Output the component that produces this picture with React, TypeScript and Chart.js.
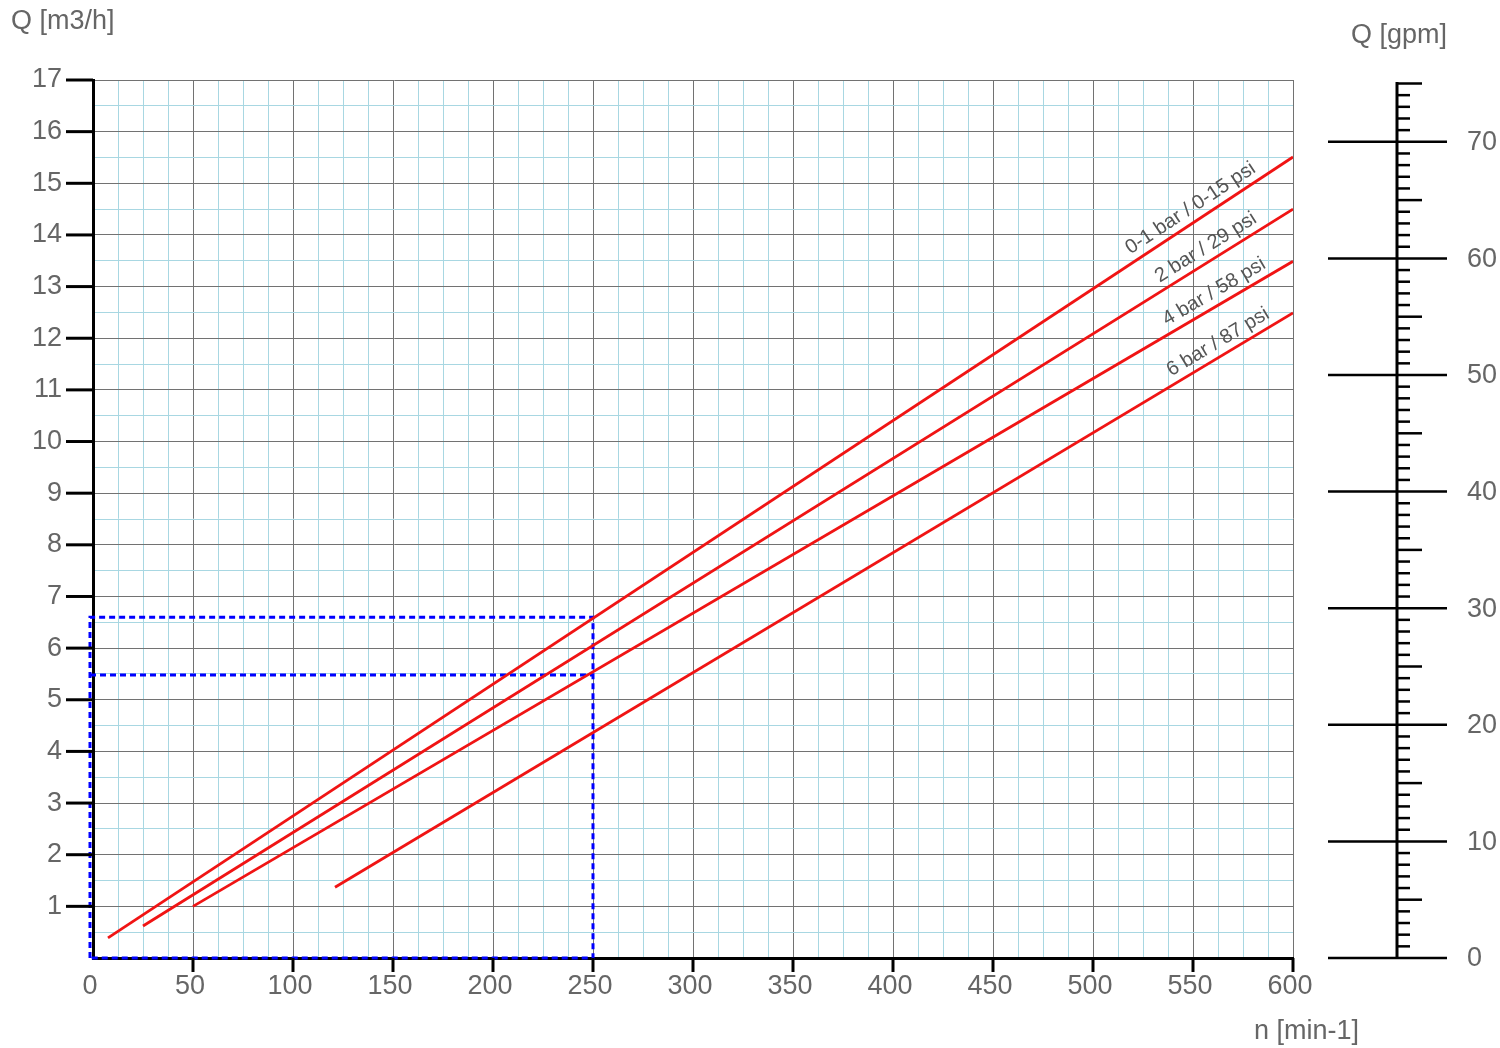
import React, { useEffect, useRef } from 'react';
import { Chart, registerables } from 'chart.js';
Chart.register(...registerables);

// ---- data ----
const seriesNames = ['0-1 bar / 0-15 psi', '2 bar / 29 psi', '4 bar / 58 psi', '6 bar / 87 psi'];
const startSpeed = [7.5, 25, 50, 121];
const startFlow = [0.39, 0.62, 1.0, 1.37];
const endSpeed = [600, 600, 600, 600];
const endFlow = [15.51, 14.5, 13.49, 12.49];
const labelSpeed = [552.5, 560, 564, 566];

const guideLeft = -1.5;
const guideSpeed = 250;
const guideFlowUpper = 6.6;
const guideFlowLower = 5.48;

const xMin = 0;
const xMax = 600;
const yMin = 0;
const yMax = 17;
const gpmMax = 75.3;
const gpmLabels = [0, 10, 20, 30, 40, 50, 60, 70];
const gpmTop = 75;

const FONT = "'Liberation Sans', Arial, sans-serif";
const BLUE = '#a8d7e2';
const GREY = '#727272';
const RED = '#f01414';
const TEXT = '#666666';

const overlay = {
  id: 'overlay',
  afterDraw(chart: any) {
    const ctx = chart.ctx as CanvasRenderingContext2D;
    const xs = chart.scales.x;
    const ys = chart.scales.y;
    const gs = chart.scales.gpm;
    const area = chart.chartArea;
    ctx.save();
    ctx.strokeStyle = '#000';
    ctx.lineCap = 'butt';
    // y tick marks
    ctx.lineWidth = 3;
    for (let v = 1; v <= yMax; v++) {
      const y = ys.getPixelForValue(v);
      ctx.beginPath();
      ctx.moveTo(66, y);
      ctx.lineTo(area.left, y);
      ctx.stroke();
    }
    // x tick marks
    for (let v = 50; v <= xMax; v += 50) {
      const x = xs.getPixelForValue(v);
      ctx.beginPath();
      ctx.moveTo(x, area.bottom);
      ctx.lineTo(x, area.bottom + 14);
      ctx.stroke();
    }
    // gpm axis
    const ax = 1397;
    ctx.lineWidth = 3;
    ctx.beginPath();
    ctx.moveTo(ax, gs.getPixelForValue(0));
    ctx.lineTo(ax, gs.getPixelForValue(gpmTop) - 1.5);
    ctx.stroke();
    for (let v = 0; v <= gpmTop; v++) {
      const y = gs.getPixelForValue(v);
      ctx.beginPath();
      ctx.lineWidth = 2.5;
      if (v % 10 === 0) {
        ctx.moveTo(1328, y);
        ctx.lineTo(1447, y);
      } else if (v % 5 === 0) {
        ctx.moveTo(ax, y);
        ctx.lineTo(ax + 25, y);
      } else {
        ctx.moveTo(ax, y);
        ctx.lineTo(ax + 13, y);
      }
      ctx.stroke();
    }
    ctx.fillStyle = TEXT;
    ctx.font = `27px ${FONT}`;
    ctx.textAlign = 'left';
    ctx.textBaseline = 'middle';
    gpmLabels.forEach((v) => {
      ctx.fillText(String(v), 1467, gs.getPixelForValue(v) + 1);
    });
    // axis titles
    ctx.fillText('Q [m3/h]', 11, 22);
    ctx.fillText('Q [gpm]', 1351, 36);
    ctx.fillText('n [min-1]', 1254, 1032);
    // line labels
    ctx.font = `20px ${FONT}`;
    ctx.fillStyle = '#555555';
    ctx.textAlign = 'center';
    ctx.textBaseline = 'alphabetic';
    seriesNames.forEach((name, i) => {
      const x1 = xs.getPixelForValue(startSpeed[i]);
      const y1 = ys.getPixelForValue(startFlow[i]);
      const x2 = xs.getPixelForValue(endSpeed[i]);
      const y2 = ys.getPixelForValue(endFlow[i]);
      const ang = Math.atan2(y2 - y1, x2 - x1);
      const t = (labelSpeed[i] - startSpeed[i]) / (endSpeed[i] - startSpeed[i]);
      const fq = startFlow[i] + t * (endFlow[i] - startFlow[i]);
      const px = xs.getPixelForValue(labelSpeed[i]);
      const py = ys.getPixelForValue(fq);
      ctx.save();
      ctx.translate(px, py);
      ctx.rotate(ang);
      ctx.fillText(name, 0, -8);
      ctx.restore();
    });
    ctx.restore();
  },
};

export default function App() {
  const ref = useRef<HTMLCanvasElement>(null);
  useEffect(() => {
    const canvas = ref.current!;
    const lineSets = seriesNames.map((name, i) => ({
      label: name,
      data: [
        { x: startSpeed[i], y: startFlow[i] },
        { x: endSpeed[i], y: endFlow[i] },
      ],
      borderColor: RED,
      borderWidth: 2.8,
      pointRadius: 0,
      tension: 0,
      fill: false,
    }));
    const guideStyle = {
      borderColor: '#0000ff',
      borderWidth: 3,
      borderDash: [6, 4],
      pointRadius: 0,
      tension: 0,
      fill: false,
      clip: false as any,
    };
    const guideSets = [
      {
        label: 'guide',
        data: [
          { x: guideLeft, y: yMin },
          { x: guideLeft, y: guideFlowUpper },
          { x: guideSpeed, y: guideFlowUpper },
          { x: guideSpeed, y: yMin },
          { x: guideLeft, y: yMin },
        ],
        ...guideStyle,
      },
      {
        label: 'guide2',
        data: [
          { x: guideLeft, y: guideFlowLower },
          { x: guideSpeed, y: guideFlowLower },
        ],
        ...guideStyle,
      },
    ];
    const chart = new Chart(canvas, {
      type: 'line',
      data: { datasets: [...lineSets, ...guideSets] as any },
      options: {
        animation: false,
        responsive: false,
        devicePixelRatio: 1,
        layout: { padding: { top: 80, right: 207, left: 0, bottom: 0 } },
        plugins: { legend: { display: false }, tooltip: { enabled: false }, title: { display: false } },
        scales: {
          x: {
            type: 'linear',
            min: xMin,
            max: xMax,
            afterFit: (s: any) => { s.height = 90; },
            grid: {
              color: (c: any) => (c.tick && c.tick.value % 50 === 0 ? GREY : BLUE),
              lineWidth: 1,
              drawTicks: false,
            },
            border: { display: true, color: '#000', width: 3 },
            ticks: {
              stepSize: 12.5,
              autoSkip: false,
              maxRotation: 0,
              padding: 12,
              labelOffset: -3,
              color: TEXT,
              font: { family: FONT, size: 27 },
              callback: (v: any) => (Number(v) % 50 === 0 ? String(v) : ''),
            },
          },
          y: {
            type: 'linear',
            min: yMin,
            max: yMax,
            afterFit: (s: any) => { s.width = 93; },
            grid: {
              color: (c: any) => (c.tick && Number.isInteger(c.tick.value) ? GREY : BLUE),
              lineWidth: 1,
              drawTicks: false,
            },
            border: { display: true, color: '#000', width: 3 },
            ticks: {
              stepSize: 0.5,
              autoSkip: false,
              padding: 31,
              color: TEXT,
              font: { family: FONT, size: 27 },
              callback: (v: any) => (Number.isInteger(Number(v)) && Number(v) > 0 ? String(v) : ''),
            },
          },
          gpm: {
            type: 'linear',
            axis: 'y',
            position: 'right',
            display: false,
            min: 0,
            max: gpmMax,
          },
        },
      } as any,
      plugins: [overlay],
    });
    return () => chart.destroy();
  }, []);
  return (
    <div style={{ position: 'absolute', left: 0, top: 0, width: 1500, height: 1048, background: '#fff' }}>
      <canvas ref={ref} width={1500} height={1048} style={{ display: 'block' }} />
    </div>
  );
}
